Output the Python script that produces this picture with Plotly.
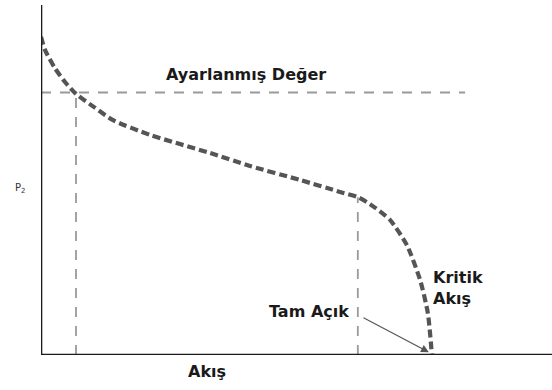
import plotly.graph_objects as go

# Pressure (P2) vs. flow characteristic of a pressure regulator (relative units)
flow = [0, 0.8, 2.7, 4.7, 6.85, 10.6, 14.1, 21.3, 33.1, 40.9, 50.7, 58.5, 62.0,
        64.4, 68.3, 71.6, 74.2, 75.7, 76.5]
p2 = [90.9, 87.1, 82.0, 78.0, 74.6, 70.6, 67.1, 62.9, 57.7, 54.0, 50.0, 46.6, 45.1,
      43.1, 38.6, 31.4, 21.4, 12.0, 0.0]

setpoint = 75.0          # set pressure ("Ayarlanmış Değer")
setpoint_flow = 6.85     # flow where the curve crosses the set pressure
full_open_flow = 62.0    # flow at full opening
full_open_p2 = 45.1
critical_flow = 76.5     # critical flow
setpoint_line_end = 83.0

fig = go.Figure()

guide = dict(color="#9a9a9a", width=1.8, dash="10px,9px")

fig.add_trace(go.Scatter(x=[0, setpoint_line_end], y=[setpoint, setpoint],
                         mode="lines", line=guide, hoverinfo="skip"))
fig.add_trace(go.Scatter(x=[setpoint_flow, setpoint_flow], y=[0, setpoint],
                         mode="lines", line=guide, hoverinfo="skip"))
fig.add_trace(go.Scatter(x=[full_open_flow, full_open_flow], y=[0, full_open_p2],
                         mode="lines", line=guide, hoverinfo="skip"))

fig.add_trace(go.Scatter(x=flow, y=p2, mode="lines",
                         line=dict(color="#555555", width=4.2, dash="8px,4px",
                                   shape="spline", smoothing=0.6),
                         hoverinfo="skip"))

font = dict(family="DejaVu Sans, sans-serif", color="#1a1a1a", size=16)


def px_x(px):
    return (px - 41) / 511


def px_y(py):
    return (355 - py) / 350


def label(text, x, y, xanchor="center", align="center", f=font):
    fig.add_annotation(x=px_x(x), y=px_y(y), xref="paper", yref="paper",
                       text=text, showarrow=False, font=f,
                       xanchor=xanchor, yanchor="middle", align=align)


label("<b>Ayarlanmış Değer</b>", 246, 74)
label("<b>Akış</b>", 207, 372)
label("<b>Tam Açık</b>", 309, 311)
label("<b>Kritik</b><br><b>Akış</b>", 431, 288, xanchor="left", align="left")
label("P<sub>2</sub>", 20, 188,
      f=dict(family="DejaVu Sans, sans-serif", color="#333333", size=10))

# arrow pointing to the full-open / critical flow point
fig.add_annotation(x=critical_flow - 0.6, y=0.8,
                   ax=px_x(362) * 100, ay=px_y(317) * 100,
                   xref="x", yref="y", axref="x", ayref="y",
                   text="", showarrow=True, arrowhead=2, arrowsize=1.3,
                   arrowwidth=1.2, arrowcolor="#555555")

fig.update_xaxes(range=[0, 100], showgrid=False, zeroline=False, showticklabels=False,
                 ticks="", showline=False)
fig.update_yaxes(range=[0, 100], showgrid=False, zeroline=False,
                 showticklabels=False, ticks="", showline=False)

# axis lines
fig.add_shape(type="line", x0=0, x1=100, y0=0, y1=0, xref="x", yref="y",
              line=dict(color="#1a1a1a", width=2.6))
fig.add_shape(type="line", x0=0, x1=0, y0=0, y1=100, xref="x", yref="y",
              line=dict(color="#1a1a1a", width=2.6))

fig.update_layout(width=552, height=390, showlegend=False,
                  margin=dict(l=41, r=0, t=5, b=35),
                  paper_bgcolor="white", plot_bgcolor="white")
fig.update_traces(cliponaxis=False)

fig.write_html("out.html")
